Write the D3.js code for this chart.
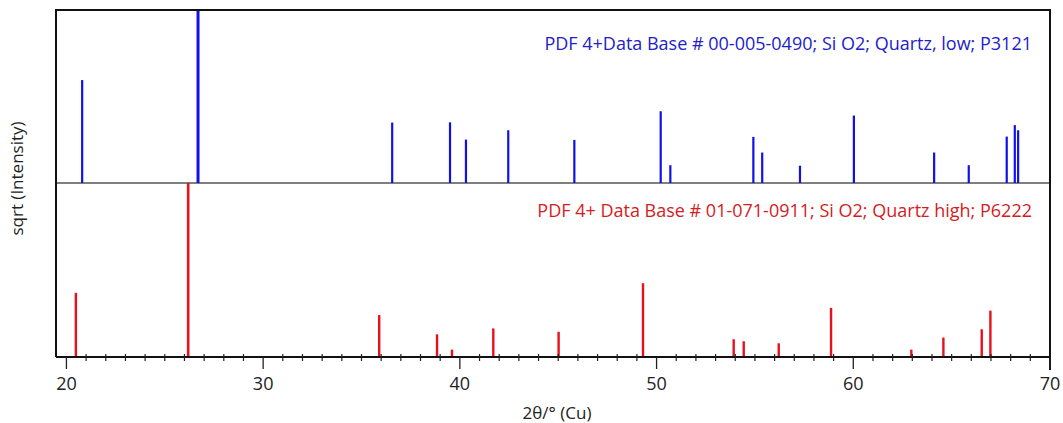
<!DOCTYPE html>
<html>
<head>
<meta charset="utf-8">
<script src="https://cdn.jsdelivr.net/npm/d3@7"></script>
<style>
  body { margin: 0; background: #fff; }
  text { font-family: "Open Sans", "Noto Sans", sans-serif; }
</style>
</head>
<body>
<svg id="chart" width="1063" height="423"></svg>
<script>
// Quartz low (blue) reference lines: 2theta and relative intensity
const lowPos = [20.80, 26.69, 36.56, 39.50, 40.31, 42.46, 45.82, 50.21, 50.70, 54.92,
  55.37, 57.29, 60.03, 64.11, 65.87, 67.80, 68.21, 68.38];
const lowInt = [35.4, 100, 12.2, 12.3, 6.3, 9.3, 6.2, 17.2, 1.06, 7.1,
  3.1, 1.0, 15.2, 3.1, 1.06, 7.2, 11.2, 9.3];

// Quartz high (red) reference lines
const highPos = [20.48, 26.19, 35.90, 38.84, 39.60, 41.70, 45.02, 49.31, 53.92, 54.43,
  56.21, 58.87, 62.95, 64.58, 66.53, 66.97];
const highInt = [13.6, 100, 5.8, 1.7, 0.18, 2.7, 2.1, 18.0, 1.04, 0.82,
  0.62, 7.96, 0.18, 1.25, 2.54, 7.1];

const majorTicks = [20, 30, 40, 50, 60, 70];
const lowLabel = 'PDF 4+Data Base # 00-005-0490; Si O2; Quartz, low; P3121';
const highLabel = 'PDF 4+ Data Base # 01-071-0911; Si O2; Quartz high; P6222';

const svg = d3.select('#chart');

const plotLeft = 56, plotRight = 1050, plotTop = 10, plotMid = 183, plotBottom = 357;

const x = d3.scaleLinear()
  .domain([19.47, 70])
  .range([plotLeft, plotRight]);

// Each panel gets its own sqrt scale
const yTop = d3.scaleSqrt().domain([0, 100]).range([plotMid, plotTop]);
const yBot = d3.scaleSqrt().domain([0, 100]).range([plotBottom, plotMid]);

// Middle separator
svg.append('line')
  .attr('x1', plotLeft).attr('x2', plotRight)
  .attr('y1', plotMid).attr('y2', plotMid)
  .style('stroke', '#555')
  .style('stroke-width', 1.6);

const lowData = lowPos.map((d, i) => ({ pos: d, val: lowInt[i] }));
const highData = highPos.map((d, i) => ({ pos: d, val: highInt[i] }));

svg.append('g')
  .selectAll('line')
  .data(lowData)
  .join('line')
  .attr('x1', d => x(d.pos)).attr('x2', d => x(d.pos))
  .attr('y1', plotMid).attr('y2', d => yTop(d.val))
  .style('stroke', '#1010e8')
  .style('stroke-width', d => d.val >= 100 ? 3 : 2.2);

svg.append('g')
  .selectAll('line')
  .data(highData)
  .join('line')
  .attr('x1', d => x(d.pos)).attr('x2', d => x(d.pos))
  .attr('y1', plotBottom).attr('y2', d => yBot(d.val))
  .style('stroke', '#e8101c')
  .style('stroke-width', d => d.val >= 100 ? 2.6 : 2.4);

// Frame: top, left, right
svg.append('path')
  .attr('d', `M${plotLeft},${plotBottom}V${plotTop}H${plotRight}V${plotBottom + 13}`)
  .style('fill', 'none')
  .style('stroke', '#111')
  .style('stroke-width', 2);

// Bottom axis
const axisG = svg.append('g')
  .attr('transform', `translate(0,${plotBottom})`);

axisG.append('line')
  .attr('x1', plotLeft).attr('x2', plotRight)
  .style('stroke', '#111')
  .style('stroke-width', 2);

const minor = d3.range(20, 70).filter(d => d % 10 !== 0);

axisG.selectAll('line.minor')
  .data(minor)
  .join('line')
  .attr('class', 'minor')
  .attr('x1', d => x(d)).attr('x2', d => x(d))
  .attr('y1', -3).attr('y2', 4)
  .style('stroke', '#222')
  .style('stroke-width', 1.2);

axisG.selectAll('line.major')
  .data(majorTicks)
  .join('line')
  .attr('class', 'major')
  .attr('x1', d => x(d)).attr('x2', d => x(d))
  .attr('y1', 0).attr('y2', 12)
  .style('stroke', '#222')
  .style('stroke-width', 1.3);

axisG.selectAll('text.tick-label')
  .data(majorTicks)
  .join('text')
  .attr('class', 'tick-label')
  .attr('x', d => x(d))
  .attr('y', 33)
  .attr('text-anchor', 'middle')
  .style('font-size', '18px')
  .style('fill', '#222')
  .text(d => d);

svg.append('text')
  .attr('x', 557).attr('y', 419)
  .attr('text-anchor', 'middle')
  .style('font-size', '17px')
  .style('fill', '#222')
  .text('2θ/° (Cu)');

svg.append('text')
  .attr('transform', `translate(23,${(plotTop + plotBottom) / 2 - 5}) rotate(-90)`)
  .attr('text-anchor', 'middle')
  .style('font-size', '17px')
  .style('fill', '#222')
  .text('sqrt (Intensity)');

svg.append('text')
  .attr('x', 1032).attr('y', 50)
  .attr('text-anchor', 'end')
  .style('font-size', '18px')
  .style('fill', '#2222c8')
  .text(lowLabel);

svg.append('text')
  .attr('x', 1032).attr('y', 217)
  .attr('text-anchor', 'end')
  .style('font-size', '18px')
  .style('fill', '#d41c24')
  .text(highLabel);
</script>
</body>
</html>
